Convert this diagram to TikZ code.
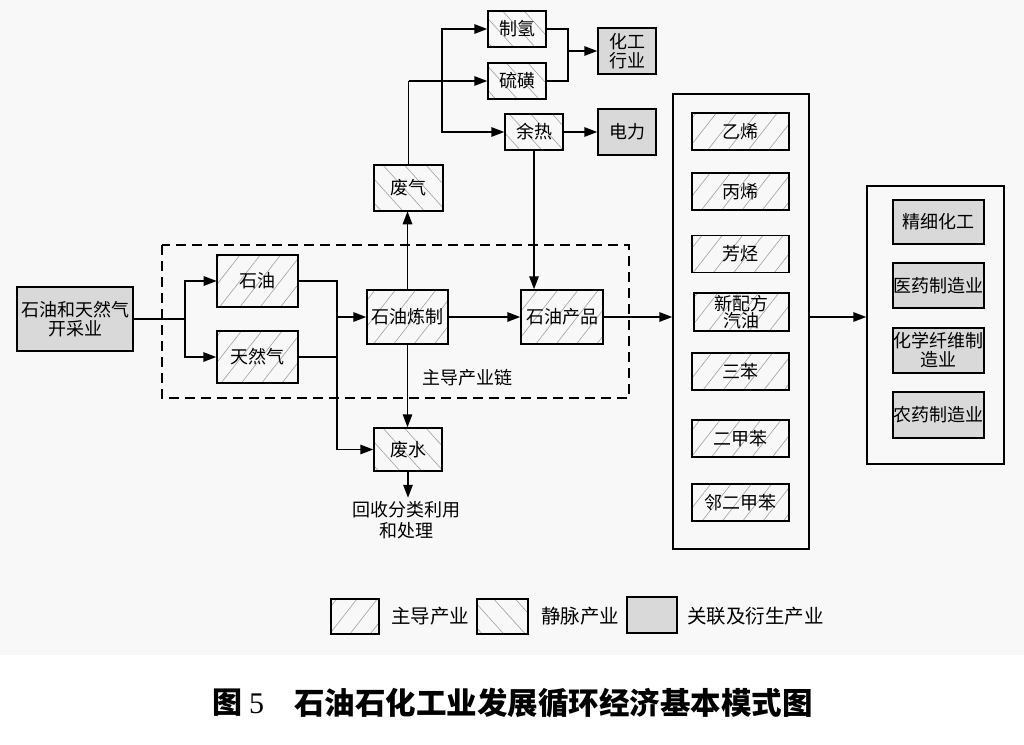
\documentclass[tikz,border=0pt]{standalone}
\usepackage{fontspec}
\setmainfont{Noto Sans CJK SC}
\newfontfamily\tnr{Liberation Serif}
\usetikzlibrary{arrows.meta,patterns.meta}
\definecolor{grayfill}{HTML}{D9D9D9}
\definecolor{hatch}{HTML}{A0A0A0}
\definecolor{bg}{HTML}{F8F8F8}
\tikzset{
 base/.style={draw=black, line width=1.5pt, inner sep=0pt, align=center, font=\fontsize{18}{19}\selectfont},
 zhu/.style={base, pattern={Lines[angle=52,distance=16pt,line width=0.6pt]}, pattern color=hatch},
 jing/.style={base, pattern={Lines[angle=-48,distance=16pt,line width=0.6pt]}, pattern color=hatch},
 guan/.style={base, fill=grayfill},
 bigframe/.style={draw=black, line width=1.5pt, inner sep=0pt},
 conn/.style={line width=1.5pt},
 arr/.style={conn, -{Triangle[length=13pt,width=9.5pt]}},
 lbl/.style={font=\fontsize{18}{21}\selectfont, align=center, inner sep=0pt},
 lgtext/.style={font=\fontsize{19.5}{21}\selectfont, inner sep=0pt, anchor=west},
 sz/.style 2 args={minimum width=#1pt, minimum height=#2pt},
}
\begin{document}
\begin{tikzpicture}[x=1pt,y=-1pt]
\useasboundingbox (0,0) rectangle (1024,744);
\fill[bg] (0,0) rectangle (1024,655);

% left part
\node[guan, sz={116}{64}] (kc) at (75,319) {石油和天然气\\开采业};
\draw[line width=1.5pt, dash pattern=on 10pt off 6pt] (162,245) rectangle (629,398);
\node[zhu, sz={81}{52}] (sy) at (257.5,281) {石油};
\node[zhu, sz={81}{52}] (trq) at (257.5,357) {天然气};
\node[zhu, sz={81}{54}] (lz) at (407.5,317) {石油炼制};
\node[zhu, sz={82}{54}] (cp) at (562,317) {石油产品};
\node[jing, sz={69}{46}] (fq) at (408.5,188) {废气};
\node[jing, sz={68}{43}] (fs) at (408,449.5) {废水};
\node[jing, sz={58}{36}] (zq) at (517,29) {制氢};
\node[jing, sz={58}{36}] (lh) at (517,81) {硫磺};
\node[jing, sz={58}{36}] (yr) at (534,132) {余热};
\node[guan, sz={58}{46}] (hg) at (627,51) {化工\\行业};
\node[guan, sz={58}{46}] (dl) at (627,132) {电力};
\node[lbl, anchor=west] (zdl) at (422,378) {主导产业链};
\node[lbl, anchor=north] (hs) at (406,501) {回收分类利用\\和处理};

% middle column
\node[bigframe, sz={136}{455}] (mid) at (741,321.5) {};
\node[zhu, sz={97}{37}] (yx) at (740.5,131.5) {乙烯};
\node[zhu, sz={97}{37}] (bx) at (740.5,191.5) {丙烯};
\node[zhu, sz={97}{37}] (ft) at (740.5,254) {芳烃};
\node[zhu, sz={95}{38}, font=\fontsize{18}{17}\selectfont] (xp) at (741.5,312) {新配方\\汽油};
\node[zhu, sz={97}{37}] (sb) at (740.5,371.5) {三苯};
\node[zhu, sz={97}{37}] (ej) at (740.5,438.5) {二甲苯};
\node[zhu, sz={97}{37}] (lej) at (740.5,502.5) {邻二甲苯};

% right column
\node[bigframe, sz={137}{278}] (rt) at (935.5,325) {};
\node[guan, sz={91}{44}] (jx) at (938.5,222) {精细化工};
\node[guan, sz={91}{45}] (yy) at (938.5,285.5) {医药制造业};
\node[guan, sz={91}{45}] (hx) at (938.5,350.5) {化学纤维制\\造业};
\node[guan, sz={91}{46}] (ny) at (938.5,415) {农药制造业};

% connectors
\coordinate (j1) at (185,319);
\draw[conn] (kc.east) -- (j1);
\draw[arr] (j1) |- (sy.west);
\draw[arr] (j1) |- (trq.west);
\coordinate (j2) at (337,317);
\draw[conn] (sy.east) -| (j2);
\draw[conn] (trq.east) -| (j2);
\draw[arr] (j2) -- (lz.west);
\draw[arr] (trq.east -| j2) |- (fs.west);
\draw[arr] (lz.east) -- (cp.west);
\draw[arr] (cp.east) -- (mid.west |- cp.east);
\draw[arr] (lz.north) -- (lz.north |- fq.south);
\draw[arr] (lz.south) -- (lz.south |- fs.north);
\draw[arr] (fs.south) -- ++(0,26);

\coordinate (fup) at (fq.north |- lh.west);
\draw[conn] (fq.north) -- (fup);
\draw[arr] (fup) -- (lh.west);
\coordinate (br) at (442,81);
\draw[arr] (br) |- (zq.west);
\draw[arr] (br) |- (yr.west);
\coordinate (m) at (568,51);
\draw[conn] (zq.east) -| (m);
\draw[conn] (lh.east) -| (m);
\draw[arr] (m) -- (hg.west);
\draw[arr] (yr.east) -- (dl.west);
\draw[arr] (yr.south) -- (yr.south |- cp.north);

\draw[arr] (mid.east |- cp.east) -- (rt.west |- cp.east);

% legend
\node[zhu, sz={48}{35}] (l1) at (355,616.5) {};
\node[lgtext] (t1) at (391,616) {主导产业};
\node[jing, sz={51}{35}] (l2) at (502.5,616.5) {};
\node[lgtext] (t2) at (541,616) {静脉产业};
\node[guan, sz={50}{36}] (l3) at (652,615) {};
\node[lgtext] (t3) at (687,616) {关联及衍生产业};

% caption
\node[anchor=west, inner sep=0pt, font=\fontsize{30}{32}\selectfont\bfseries] (cap1) at (212,703) {图\hspace{7pt}{\tnr\mdseries 5}};
\node[anchor=west, inner sep=0pt, font=\fontsize{30.5}{32}\selectfont\bfseries] (cap2) at (294,703) {石油石化工业发展循环经济基本模式图};
\end{tikzpicture}
\end{document}
